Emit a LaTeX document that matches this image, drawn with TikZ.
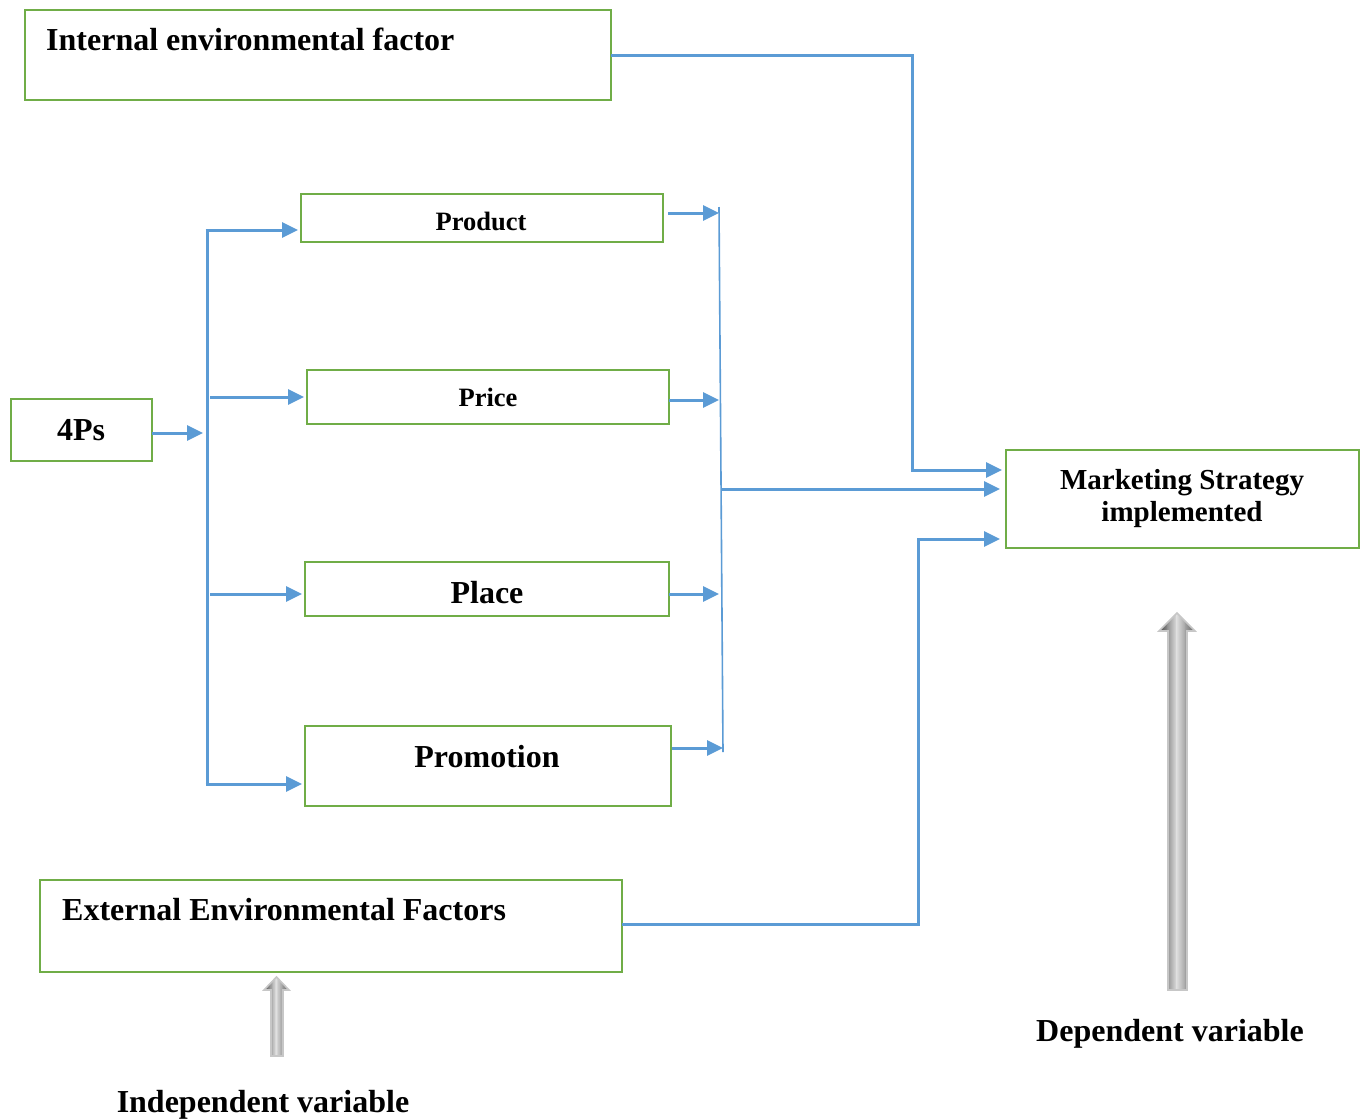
\documentclass[tikz,border=0pt]{standalone}
\usepackage{fontspec}
\setmainfont{Liberation Serif}
\usetikzlibrary{arrows.meta,calc}

\definecolor{boxgreen}{RGB}{112,173,71}
\definecolor{linkblue}{RGB}{91,155,213}

\tikzset{
  box/.style={draw=boxgreen, line width=2.8pt, inner sep=0pt, outer sep=0pt,
              anchor=north west, minimum width=#1},
  big/.style={font=\bfseries\fontsize{32}{36}\selectfont, inner sep=0pt},
  mid/.style={font=\bfseries\fontsize{29}{32}\selectfont, inner sep=0pt},
  small/.style={font=\bfseries\fontsize{26.5}{30}\selectfont, inner sep=0pt},
  conn/.style={draw=linkblue, line width=3pt,
               -{Triangle[length=16pt,width=15pt]}, shorten >=3pt},
  plain/.style={draw=linkblue, line width=3pt},
  thinline/.style={draw=linkblue, line width=1.6pt},
  arrowrim/.style={draw=black!22, line width=1.6pt, line join=miter},
}

% upward block arrow with a cylindrical grey gradient:
% #1 = shaft left x, #2 = shaft right x, #3 = head left x, #4 = head right x,
% #5 = bottom y, #6 = head base y, #7 = tip y
\newcommand{\shadedUpArrow}[7]{%
  \begin{scope}
    \clip (#1,#5) -- (#1,#6) -- (#3,#6) -- ({(#3+#4)/2},#7) -- (#4,#6)
          -- (#2,#6) -- (#2,#5) -- cycle;
    \pgfmathsetmacro{\arrw}{#4-#3}
    \foreach \k in {0,...,40}{%
      \pgfmathsetmacro{\tt}{\k/40}%
      \pgfmathsetmacro{\dk}{\tt<0.5 ? 75-126*\tt : 12+100*(\tt-0.5)}%
      \fill[black!\dk] ({#3+\arrw*\tt-0.6},#5) rectangle ({#3+\arrw*\tt+\arrw/40+0.6},#7);
    }
  \end{scope}
  \path[arrowrim] (#1,#5) -- (#1,#6) -- (#3,#6) -- ({(#3+#4)/2},#7) -- (#4,#6)
        -- (#2,#6) -- (#2,#5) -- cycle;
}

\begin{document}
\begin{tikzpicture}[x=1pt, y=-1pt]
  \useasboundingbox (0,0) rectangle (1365,1119);

  % boxes
  \node[box=586pt, minimum height=90pt] (internal) at (25,10) {};
  \node[box=362pt, minimum height=48pt] (product)  at (301,194) {};
  \node[box=362pt, minimum height=54pt] (price)    at (307,370) {};
  \node[box=364pt, minimum height=54pt] (place)    at (305,562) {};
  \node[box=366pt, minimum height=80pt] (promo)    at (305,726) {};
  \node[box=141pt, minimum height=62pt] (fourps)   at (11,399) {};
  \node[box=582pt, minimum height=92pt] (external) at (40,880) {};
  \node[box=353pt, minimum height=98pt] (market)   at (1006,450) {};

  % box texts
  \node[big, anchor=base west] (internalText) at (46,50) {Internal environmental factor};
  \node[small, anchor=base] (productText) at (481,230) {Product};
  \node[small, anchor=base] (priceText)   at (488,406) {Price};
  \node[big, anchor=base]   (placeText)   at (487,603) {Place};
  \node[big, anchor=base]   (promoText)   at (487,767) {Promotion};
  \node[big, anchor=base]   (fourpsText)  at (81,440)  {4Ps};
  \node[big, anchor=base west] (externalText) at (62,920) {External Environmental Factors};
  \node[mid, anchor=base] (marketText1) at (1182,489) {Marketing Strategy};
  \node[mid, anchor=base] (marketText2) at (1182,521) {implemented};

  % captions
  \node[big, anchor=base] (indep) at (263,1112) {Independent variable};
  \node[big, anchor=base] (dep)   at (1170,1041) {Dependent variable};

  % junction points
  \coordinate (trunkIn)  at (203,433);
  \coordinate (trunkTop) at (207,230);
  \coordinate (trunkBot) at (207,784);
  \coordinate (colTop)   at (719,207);
  \coordinate (colBot)   at (723,752);
  \coordinate (colMid)   at (721,489);
  \coordinate (bendA)    at (912,470);
  \coordinate (bendB)    at (918,539);

  % 4Ps fan-out
  \draw[conn, shorten >=0pt] ([yshift=-3pt]fourps.east) coordinate (fa) -- (fa -| trunkIn);
  \draw[plain] (trunkTop) -- (trunkBot);
  \draw[conn] ([xshift=-1.5pt]trunkTop) -- (trunkTop -| product.west);
  \draw[conn] ([xshift=3pt]trunkTop |- price.west) -- (price.west);
  \draw[conn] ([xshift=3pt,yshift=-5pt]trunkTop |- place.west) -- ([yshift=-5pt]place.west);
  \draw[conn] ([xshift=-1.5pt]trunkBot) -- (trunkBot -| promo.west);

  % collecting into the strategy box
  \draw[conn, shorten >=0pt] ([xshift=5pt,yshift=5pt]product.east) coordinate (pa) -- (pa -| colTop);
  \draw[conn, shorten >=0pt] ([yshift=-3pt]price.east) coordinate (pb) -- (pb -| colTop);
  \draw[conn, shorten >=0pt] ([yshift=-5pt]place.east) coordinate (pc) -- (pc -| colTop);
  \draw[conn, shorten >=0pt] ([xshift=1pt,yshift=18pt]promo.east) coordinate (pd) -- (pd -| colBot);
  \draw[thinline] (colTop) -- (colBot);
  \draw[conn, shorten >=6pt] (colMid) -- (colMid -| market.west);

  % environmental factors
  \draw[conn, shorten >=4pt] (internal.east) -| (bendA) -- (bendA -| market.west);
  \draw[conn, shorten >=6pt] ([yshift=2pt]external.east) -| (bendB) -- (bendB -| market.west);

  % shaded upward arrows
  \shadedUpArrow{1168}{1187}{1159}{1195}{990}{631}{613}
  \shadedUpArrow{271}{283}{264}{289}{1056}{990}{977}
\end{tikzpicture}
\end{document}
